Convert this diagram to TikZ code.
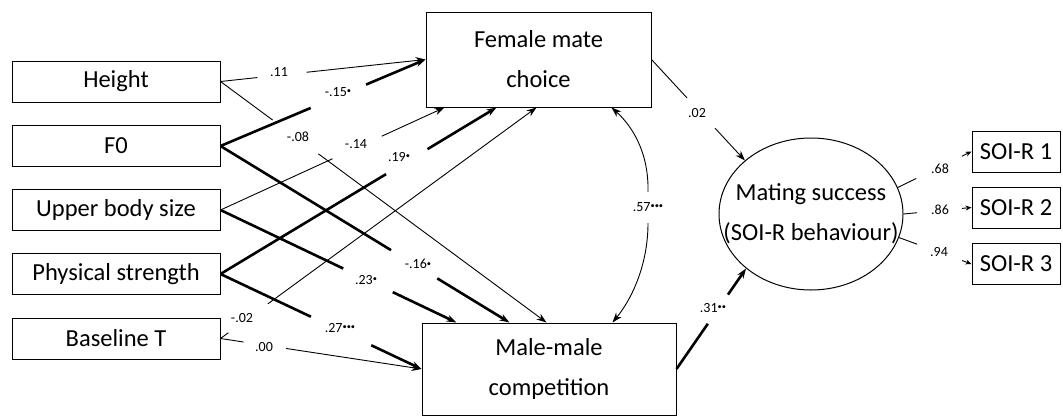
\documentclass[tikz,border=0pt]{standalone}
\usepackage{fontspec}
\usepackage{graphicx}
\setmainfont{Carlito}
\usetikzlibrary{arrows.meta,calc,shapes.geometric}
\newcommand{\sg}{\raisebox{0.4ex}{\scalebox{0.6}{\textbullet}}}
\newcommand{\gapline}[5]{%
  \draw[#1] (#2) -- ($(#2)!#4!(#3)$);
  \draw[#1,arr] ($(#2)!#5!(#3)$) -- (#3);}
\begin{document}
\begin{tikzpicture}[x=1pt,y=-1pt,
  box/.style={draw,line width=1pt,minimum width=208pt,minimum height=41pt,inner sep=0pt,font=\fontsize{24.5}{28}\selectfont},
  bigbox/.style={draw,line width=1pt,inner sep=0pt,align=center,font=\fontsize{24.5}{40}\selectfont},
  soibox/.style={draw,line width=1pt,minimum width=88pt,minimum height=41pt,inner sep=0pt,font=\fontsize{24.5}{28}\selectfont},
  lab/.style={inner sep=0pt,font=\fontsize{14}{16}\selectfont},
  thinl/.style={line width=0.9pt},
  thickl/.style={line width=2.6pt},
  arr/.style={-{Stealth[length=10pt,width=7pt]}},
  sarr/.style={-{Stealth[length=6pt,width=5pt]}}
]
\useasboundingbox (0,0) rectangle (1063,418);
% left boxes
\node[box] (h)  at (116,81.5) {Height};
\node[box] (f0) at (116,146) {F0};
\node[box] (ub) at (116,210) {Upper body size};
\node[box] (ps) at (116,274) {Physical strength};
\node[box] (bt) at (116,338.5) {Baseline T};
% middle boxes
\node[bigbox,minimum width=225pt,minimum height=95pt] (fem) at (538.5,59.5) {Female mate\\choice};
\node[bigbox,minimum width=254pt,minimum height=92pt] (mal) at (549,369) {Male-male\\competition};
% ellipse
\node[ellipse,draw,line width=1pt,minimum width=184pt,minimum height=152pt,inner sep=0pt] (ell) at (811,214) {};
\node[inner sep=0pt,align=center,font=\fontsize{24.5}{40}\selectfont] (ellt) at (ell.center) {Mating success\\(SOI-R behaviour)};
% SOI boxes
\node[soibox] (s1) at (1016,151.5) {SOI-R 1};
\node[soibox] (s2) at (1016,207.5) {SOI-R 2};
\node[soibox] (s3) at (1016,264) {SOI-R 3};
% anchor points
\coordinate (fUB) at ([xshift=19pt]fem.south west);
\coordinate (fPS) at ([xshift=71pt]fem.south west);
\coordinate (fBT) at ([xshift=111pt]fem.south west);
\coordinate (fCV) at ([xshift=186pt]fem.south west);
\coordinate (mH)  at ([xshift=125pt]mal.north west);
\coordinate (mF)  at ([xshift=88pt]mal.north west);
\coordinate (mUB) at ([xshift=35pt]mal.north west);
\coordinate (mCV) at ([xshift=191pt]mal.north west);
% paths to Female mate choice
\gapline{thinl}{h.east}{fem.west}{0.18}{0.42}
\gapline{thickl}{f0.east}{fem.west}{0.44}{0.71}
\gapline{thinl}{ub.east}{fUB}{0.50}{0.72}
\gapline{thickl}{ps.east}{fPS}{0.60}{0.75}
\gapline{thinl}{bt.east}{fBT}{0.025}{0.15}
% paths to Male-male competition
\gapline{thinl}{h.east}{mH}{0.16}{0.30}
\gapline{thickl}{f0.east}{mF}{0.59}{0.75}
\gapline{thickl}{ub.east}{mUB}{0.52}{0.73}
\gapline{thickl}{ps.east}{mal.west}{0.45}{0.75}
\gapline{thinl}{bt.east}{mal.west}{0.115}{0.325}
% to mating success
\gapline{thinl}{fem.east}{ell.141}{0.38}{0.68}
\gapline{thickl}{mal.east}{ell.220}{0.45}{0.74}
% covariance
\coordinate (cv1) at (648,192);
\coordinate (cv2) at (648,223);
\draw[thinl,arr] (cv1) .. controls (649,150) and (630,124) .. (fCV);
\draw[thinl,arr] (cv2) .. controls (648,266) and (631,300) .. (mCV);
% indicators
\draw[thinl] (ell.17) -- ($(ell.17)!0.25!(s1.west)$);
\draw[thinl,sarr] ($(ell.17)!0.87!(s1.west)$) -- (s1.west);
\draw[thinl] (ell.0) -- ($(ell.0)!0.2!(s2.west)$);
\draw[thinl,sarr] ($(ell.0)!0.86!(s2.west)$) -- (s2.west);
\draw[thinl] (ell.-15) -- ($(ell.-15)!0.25!(s3.west)$);
\draw[thinl,sarr] ($(ell.-15)!0.87!(s3.west)$) -- (s3.west);
% labels
\node[lab] (l1)  at (279,72)  {.11};
\node[lab] (l2)  at (338,92)  {-.15\sg};
\node[lab] (l3)  at (298,137) {-.08};
\node[lab] (l4)  at (356,144) {-.14};
\node[lab] (l5)  at (399,157) {.19\sg};
\node[lab] (l6)  at (418,264) {-.16\sg};
\node[lab] (l7)  at (366,280) {.23\sg};
\node[lab] (l8)  at (242,318) {-.02};
\node[lab] (l9)  at (340,328) {.27\sg\sg\sg};
\node[lab] (l10) at (264,347) {.00};
\node[lab] (l11) at (697,113) {.02};
\node[lab] (l12) at (648,207) {.57\sg\sg\sg};
\node[lab] (l13) at (713,308) {.31\sg\sg};
\node[lab] (l14) at (940,169) {.68};
\node[lab] (l15) at (940,210) {.86};
\node[lab] (l16) at (939,252) {.94};
\end{tikzpicture}
\end{document}
